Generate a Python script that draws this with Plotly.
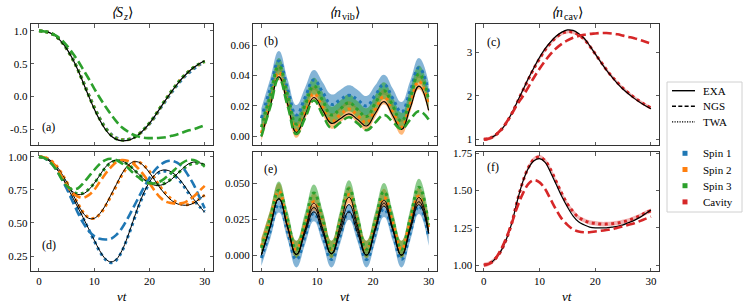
import plotly.graph_objects as go

# ---------------- data ----------------
T = list(range(31))
TQ = [0, 1.57, 3.14, 4.71, 6.28, 7.85, 9.42, 11.0, 12.57, 14.14, 15.71, 17.28,
      18.85, 20.42, 21.99, 23.56, 25.13, 26.7, 28.27, 30.0]

# (a) <S_z>, identical spins
A_EXA = [1.0, 0.99, 0.97, 0.92, 0.84, 0.73, 0.585, 0.41, 0.21, 0.005, -0.19, -0.36, -0.5, -0.6, -0.655,
         -0.675, -0.67, -0.64, -0.585, -0.505, -0.41, -0.295, -0.17, -0.045, 0.075, 0.185, 0.285, 0.37,
         0.44, 0.5, 0.545]
A_NGS = [1.0, 0.99, 0.97, 0.93, 0.87, 0.78, 0.67, 0.55, 0.41, 0.27, 0.12, -0.02, -0.15, -0.27, -0.38,
         -0.47, -0.53, -0.58, -0.61, -0.63, -0.635, -0.635, -0.63, -0.62, -0.6, -0.58, -0.55, -0.52,
         -0.5, -0.47, -0.44]
A_TWA1 = [1.0, 0.99, 0.97, 0.92, 0.84, 0.73, 0.59, 0.42, 0.23, 0.03, -0.16, -0.33, -0.47, -0.57, -0.63,
          -0.655, -0.655, -0.63, -0.58, -0.51, -0.42, -0.31, -0.18, -0.06, 0.06, 0.17, 0.27, 0.35, 0.42,
          0.48, 0.52]
A_TWA2 = [1.0, 0.99, 0.97, 0.92, 0.84, 0.73, 0.585, 0.415, 0.22, 0.02, -0.17, -0.34, -0.48, -0.58, -0.64,
          -0.66, -0.66, -0.635, -0.58, -0.505, -0.41, -0.295, -0.165, -0.04, 0.08, 0.19, 0.29, 0.37,
          0.44, 0.49, 0.53]
A_TWA3 = [1.0, 0.99, 0.97, 0.92, 0.84, 0.73, 0.585, 0.415, 0.215, 0.015, -0.175, -0.345, -0.485, -0.585,
          -0.645, -0.665, -0.66, -0.635, -0.58, -0.5, -0.405, -0.29, -0.16, -0.035, 0.085, 0.195, 0.295,
          0.375, 0.445, 0.495, 0.535]

# (d) <S_z>, different spins
D_EXA1 = [1.0, 0.99, 0.965, 0.92, 0.86, 0.78, 0.70, 0.62, 0.54, 0.455, 0.37, 0.29, 0.23, 0.205, 0.225,
          0.29, 0.39, 0.51, 0.63, 0.73, 0.81, 0.865, 0.895, 0.9, 0.885, 0.85, 0.8, 0.74, 0.68, 0.63, 0.58]
D_TWA1 = [1.0, 0.99, 0.965, 0.92, 0.855, 0.775, 0.695, 0.615, 0.535, 0.45, 0.365, 0.285, 0.225, 0.2,
          0.22, 0.285, 0.385, 0.5, 0.62, 0.72, 0.8, 0.855, 0.885, 0.89, 0.875, 0.84, 0.79, 0.73, 0.675,
          0.625, 0.585]
D_NGS1 = [1.0, 0.99, 0.96, 0.91, 0.84, 0.76, 0.67, 0.58, 0.5, 0.44, 0.4, 0.38, 0.375, 0.38, 0.41, 0.46,
          0.53, 0.61, 0.69, 0.77, 0.84, 0.9, 0.94, 0.965, 0.97, 0.955, 0.92, 0.86, 0.79, 0.7, 0.61]
D_EXA2 = [1.0, 0.995, 0.975, 0.94, 0.88, 0.81, 0.73, 0.645, 0.575, 0.535, 0.535, 0.57, 0.63, 0.71, 0.79,
          0.87, 0.93, 0.96, 0.96, 0.93, 0.88, 0.82, 0.76, 0.71, 0.67, 0.645, 0.635, 0.635, 0.65, 0.68, 0.71]
D_TWA2 = [1.0, 0.995, 0.975, 0.94, 0.88, 0.81, 0.73, 0.65, 0.58, 0.54, 0.535, 0.565, 0.625, 0.70, 0.78,
          0.86, 0.92, 0.955, 0.96, 0.935, 0.89, 0.83, 0.77, 0.72, 0.68, 0.655, 0.64, 0.64, 0.655, 0.68, 0.71]
D_NGS2 = [1.0, 0.995, 0.975, 0.93, 0.86, 0.79, 0.73, 0.70, 0.69, 0.71, 0.75, 0.81, 0.87, 0.92, 0.96,
          0.975, 0.97, 0.95, 0.91, 0.86, 0.8, 0.74, 0.69, 0.66, 0.65, 0.645, 0.65, 0.67, 0.7, 0.74, 0.78]
D_EXA3 = [1.0, 0.99, 0.965, 0.92, 0.86, 0.79, 0.74, 0.715, 0.72, 0.75, 0.80, 0.86, 0.92, 0.96, 0.975,
          0.97, 0.945, 0.91, 0.87, 0.83, 0.80, 0.785, 0.785, 0.80, 0.83, 0.87, 0.91, 0.945, 0.96, 0.955, 0.94]
D_TWA3 = [1.0, 0.99, 0.965, 0.92, 0.86, 0.795, 0.745, 0.72, 0.725, 0.755, 0.80, 0.86, 0.915, 0.955, 0.97,
          0.965, 0.945, 0.91, 0.87, 0.835, 0.805, 0.79, 0.79, 0.805, 0.835, 0.87, 0.905, 0.935, 0.95, 0.95,
          0.935]
D_NGS3 = [1.0, 0.99, 0.96, 0.91, 0.84, 0.78, 0.755, 0.76, 0.8, 0.85, 0.9, 0.945, 0.975, 0.985, 0.975,
          0.95, 0.92, 0.88, 0.845, 0.815, 0.80, 0.80, 0.815, 0.845, 0.88, 0.92, 0.955, 0.975, 0.975, 0.955,
          0.925]

# (b) <n_vib>, identical spins (sampled at TQ)
B_EXA = [0.0, 0.0195, 0.039, 0.021, 0.0025, 0.014, 0.0255, 0.017, 0.0085, 0.0115, 0.0148, 0.011, 0.0068,
         0.015, 0.0228, 0.0137, 0.0045, 0.0188, 0.033, 0.017]
B_NGS = [0.0, 0.019, 0.038, 0.020, 0.0015, 0.012, 0.0235, 0.014, 0.0055, 0.009, 0.0125, 0.0085, 0.004,
         0.009, 0.014, 0.0095, 0.005, 0.011, 0.0165, 0.011]
B_TWA1 = [0.012, 0.031, 0.0495, 0.031, 0.014, 0.0255, 0.037, 0.029, 0.021, 0.024, 0.027, 0.024, 0.020,
          0.027, 0.034, 0.025, 0.016, 0.030, 0.045, 0.029]
B_TWA2 = [0.002, 0.022, 0.042, 0.023, 0.004, 0.016, 0.028, 0.019, 0.010, 0.014, 0.018, 0.0135, 0.009,
          0.0175, 0.026, 0.016, 0.006, 0.021, 0.036, 0.020]
B_TWA3 = [0.006, 0.026, 0.046, 0.027, 0.008, 0.0205, 0.033, 0.0235, 0.014, 0.018, 0.022, 0.0175, 0.013,
          0.0215, 0.030, 0.020, 0.010, 0.0255, 0.041, 0.024]
B_ERR = [0.0065, 0.005, 0.0055]

# (e) <n_vib>, different spins (sampled at TQ)
E_EXA1 = [0.0, 0.0195, 0.039, 0.0195, 0.0005, 0.0155, 0.030, 0.0155, 0.001, 0.0155, 0.030, 0.015, 0.0,
          0.017, 0.034, 0.0175, 0.0, 0.0175, 0.035, 0.015]
E_EXA2 = [0.0, 0.0195, 0.039, 0.0195, 0.0005, 0.017, 0.033, 0.0175, 0.001, 0.018, 0.035, 0.0175, 0.0,
          0.018, 0.036, 0.018, 0.0, 0.0185, 0.037, 0.0155]
E_EXA3 = [0.0, 0.0195, 0.039, 0.019, 0.0005, 0.018, 0.036, 0.0185, 0.001, 0.0205, 0.040, 0.020, 0.0,
          0.019, 0.038, 0.019, 0.0, 0.020, 0.040, 0.017]
E_TWA1 = [-0.002, 0.0165, 0.035, 0.016, -0.003, 0.013, 0.029, 0.0135, -0.003, 0.0135, 0.030, 0.0145,
          -0.003, 0.0145, 0.032, 0.0155, -0.003, 0.0155, 0.034, 0.012]
E_TWA2 = [0.006, 0.025, 0.044, 0.021, 0.004, 0.0205, 0.037, 0.023, 0.004, 0.023, 0.042, 0.022, 0.004,
          0.022, 0.040, 0.022, 0.004, 0.023, 0.041, 0.019]
E_TWA3 = [0.005, 0.025, 0.045, 0.0245, 0.004, 0.0235, 0.043, 0.025, 0.004, 0.025, 0.046, 0.025, 0.004,
          0.024, 0.044, 0.0245, 0.004, 0.0255, 0.047, 0.021]
E_ERR = [0.0055, 0.006, 0.006]

# (c) <n_cav>, identical spins
C_EXA = [1.0, 1.02, 1.09, 1.2, 1.37, 1.6, 1.86, 2.13, 2.4, 2.65, 2.88, 3.08, 3.24, 3.37, 3.46, 3.51, 3.5,
         3.43, 3.32, 3.15, 2.96, 2.77, 2.59, 2.43, 2.28, 2.15, 2.04, 1.94, 1.85, 1.77, 1.7]
C_TWA = [1.0, 1.02, 1.09, 1.2, 1.37, 1.59, 1.85, 2.12, 2.38, 2.63, 2.85, 3.05, 3.21, 3.34, 3.43, 3.47,
         3.46, 3.4, 3.3, 3.14, 2.96, 2.78, 2.6, 2.44, 2.3, 2.17, 2.06, 1.96, 1.87, 1.79, 1.72]
C_NGS = [1.0, 1.02, 1.09, 1.21, 1.38, 1.58, 1.8, 1.99, 2.2, 2.42, 2.62, 2.8, 2.96, 3.09, 3.19, 3.27, 3.33,
         3.37, 3.4, 3.42, 3.43, 3.44, 3.44, 3.43, 3.41, 3.38, 3.35, 3.32, 3.28, 3.24, 3.2]
C_ERR = 0.04

# (f) <n_cav>, different spins
F_EXA = [1.0, 1.01, 1.04, 1.09, 1.17, 1.28, 1.43, 1.56, 1.65, 1.7, 1.715, 1.69, 1.62, 1.54, 1.46, 1.39,
         1.33, 1.29, 1.27, 1.255, 1.25, 1.25, 1.25, 1.255, 1.26, 1.27, 1.285, 1.3, 1.32, 1.345, 1.37]
F_TWA = [1.0, 1.01, 1.04, 1.09, 1.17, 1.28, 1.43, 1.56, 1.655, 1.71, 1.725, 1.7, 1.64, 1.56, 1.48, 1.41,
         1.36, 1.32, 1.3, 1.285, 1.28, 1.275, 1.275, 1.278, 1.282, 1.29, 1.3, 1.315, 1.33, 1.35, 1.365]
F_NGS = [1.0, 1.01, 1.04, 1.1, 1.18, 1.28, 1.39, 1.48, 1.545, 1.57, 1.555, 1.51, 1.44, 1.37, 1.31, 1.27,
         1.24, 1.225, 1.22, 1.22, 1.225, 1.23, 1.235, 1.24, 1.25, 1.26, 1.27, 1.28, 1.295, 1.31, 1.325]
F_ERR = 0.015

X_TICKS = [0, 10, 20, 30]
LEGEND_LINES = ["EXA", "NGS", "TWA"]
LEGEND_COLORS = ["Spin 1", "Spin 2", "Spin 3", "Cavity"]
# column titles: (symbol, subscript, subscript italic?)
TITLES = [("S", "z", True), ("n", "vib", False), ("n", "cav", False)]

# ---------------- style ----------------
BLUE, ORANGE, GREEN, RED = "#1f77b4", "#ff7f0e", "#2ca02c", "#d62728"
BAND = {BLUE: "rgba(31,119,180,0.55)", ORANGE: "rgba(255,127,14,0.55)",
        GREEN: "rgba(44,160,44,0.55)", RED: "rgba(214,39,40,0.35)"}
FONT = "Liberation Serif"
W, H = 747, 307
DOT = "3px,3.5px"
DASH = "9px,4px"

fig = go.Figure()


def ax(i):
    return ("x" if i == 1 else f"x{i}"), ("y" if i == 1 else f"y{i}")


def line(i, x, y, color, width, dash="solid", smooth=1.0):
    xa, ya = ax(i)
    fig.add_trace(go.Scatter(x=x, y=y, xaxis=xa, yaxis=ya, mode="lines",
                             line=dict(color=color, width=width, dash=dash, shape="spline", smoothing=smooth),
                             hoverinfo="skip", showlegend=False))


def band(i, x, y, err, color, smooth=1.0):
    xa, ya = ax(i)
    lo = [v - err for v in y]
    hi = [v + err for v in y]
    fig.add_trace(go.Scatter(x=x, y=lo, xaxis=xa, yaxis=ya, mode="lines",
                             line=dict(width=0, shape="spline", smoothing=smooth),
                             hoverinfo="skip", showlegend=False))
    fig.add_trace(go.Scatter(x=x, y=hi, xaxis=xa, yaxis=ya, mode="lines", fill="tonexty",
                             fillcolor=BAND[color], line=dict(width=0, shape="spline", smoothing=smooth),
                             hoverinfo="skip", showlegend=False))


SQ = 1.3  # smoothing for the quarter-period sampled oscillations

# (a)
for y, c in [(A_TWA1, BLUE), (A_TWA2, ORANGE), (A_TWA3, GREEN)]:
    line(1, T, y, c, 3, DOT)
line(1, T, A_EXA, "black", 1.2)
line(1, T, A_NGS, GREEN, 2.6, DASH)

# (b)
for y, c, e in [(B_TWA1, BLUE, B_ERR[0]), (B_TWA2, ORANGE, B_ERR[1]), (B_TWA3, GREEN, B_ERR[2])]:
    band(2, TQ, y, e, c, SQ)
for y, c in [(B_TWA1, BLUE), (B_TWA2, ORANGE), (B_TWA3, GREEN)]:
    line(2, TQ, y, c, 3, DOT, SQ)
line(2, TQ, B_EXA, "black", 1.2, smooth=SQ)
line(2, TQ, B_NGS, GREEN, 2.6, DASH, SQ)

# (c)
band(3, T, C_TWA, C_ERR, RED)
line(3, T, C_TWA, RED, 3, DOT)
line(3, T, C_EXA, "black", 1.2)
line(3, T, C_NGS, RED, 2.6, DASH)

# (d)
for tw, c in [(D_TWA1, BLUE), (D_TWA2, ORANGE), (D_TWA3, GREEN)]:
    line(4, T, tw, c, 3, DOT)
for ex in [D_EXA1, D_EXA2, D_EXA3]:
    line(4, T, ex, "black", 1.0)
for ng, c in [(D_NGS1, BLUE), (D_NGS2, ORANGE), (D_NGS3, GREEN)]:
    line(4, T, ng, c, 2.6, DASH)

# (e)
for y, c, e in [(E_TWA1, BLUE, E_ERR[0]), (E_TWA2, ORANGE, E_ERR[1]), (E_TWA3, GREEN, E_ERR[2])]:
    band(5, TQ, y, e, c, SQ)
for y, c in [(E_TWA1, BLUE), (E_TWA2, ORANGE), (E_TWA3, GREEN)]:
    line(5, TQ, y, c, 3, DOT, SQ)
for ex in [E_EXA1, E_EXA2, E_EXA3]:
    line(5, TQ, ex, "black", 1.0, smooth=SQ)

# (f)
band(6, T, F_TWA, F_ERR, RED)
line(6, T, F_TWA, RED, 3, DOT)
line(6, T, F_EXA, "black", 1.2)
line(6, T, F_NGS, RED, 2.6, DASH)

# ---------------- axes ----------------
XD = [[30.7 / W, 213.0 / W], [253.0 / W, 437.0 / W], [475.5 / W, 659.3 / W]]
YD = [[1 - 145.0 / H, 1 - 24.3 / H], [1 - 271.0 / H, 1 - 152.0 / H]]

YCFG = {
    1: ([-0.74, 1.10], [-0.5, 0.0, 0.5, 1.0], ["-0.5", "0.0", "0.5", "1.0"]),
    2: ([-0.0057, 0.0736], [0.0, 0.02, 0.04, 0.06], ["0.00", "0.02", "0.04", "0.06"]),
    3: ([0.87, 3.64], [1, 2, 3], ["1", "2", "3"]),
    4: ([0.137, 1.036], [0.25, 0.5, 0.75, 1.0], ["0.25", "0.50", "0.75", "1.00"]),
    5: ([-0.011, 0.0715], [0.0, 0.025, 0.05], ["0.000", "0.025", "0.050"]),
    6: ([0.96, 1.759], [1.0, 1.25, 1.5, 1.75], ["1.00", "1.25", "1.50", "1.75"]),
}

common = dict(showline=True, linecolor="#333333", linewidth=1, mirror="ticks", ticks="inside",
              ticklen=3.5, tickwidth=0.8, tickcolor="#333333", showgrid=False, zeroline=False,
              automargin=False, tickfont=dict(family=FONT, size=11, color="black"))

layout_axes = {}
for i in range(1, 7):
    row = 0 if i <= 3 else 1
    col = (i - 1) % 3
    xa, ya = ax(i)
    xkey = "xaxis" if i == 1 else f"xaxis{i}"
    ykey = "yaxis" if i == 1 else f"yaxis{i}"
    layout_axes[xkey] = dict(domain=XD[col], range=[-1.5, 31.5], anchor=ya, tickvals=X_TICKS,
                             ticktext=[str(v) for v in X_TICKS], showticklabels=(row == 1), **common)
    rng, tv, tt = YCFG[i]
    layout_axes[ykey] = dict(domain=YD[row], range=rng, anchor=xa, tickvals=tv, ticktext=tt, **common)

fig.update_layout(**layout_axes)

# ---------------- annotations ----------------
ann = []
px = lambda v: v / W
py = lambda v: 1 - v / H


def txt(text, x, y, size, xanchor="center", style="normal", pad=1):
    ann.append(dict(text=text, x=px(x), y=py(y), xref="paper", yref="paper", xanchor=xanchor,
                    yanchor="middle", showarrow=False, borderpad=pad, borderwidth=0 if pad == 0 else 1,
                    font=dict(family=FONT, size=size, color="black", style=style)))


# column titles built from plain text pieces (no markup): "<" sym, subscript, ">"
SUB_W = {"z": 4.2, "vib": 13.0, "cav": 14.0}
for col, (sym, sub, sub_it) in enumerate(TITLES):
    cx = (XD[col][0] + XD[col][1]) / 2 * W
    total = 11.5 + 0.5 + SUB_W[sub] + 0.5 + 5.0
    p = cx - total / 2 + 11.5
    txt("⟨" + sym, p, 12.5, 14, xanchor="right", style="italic", pad=0)
    txt(sub, p + 0.5, 16.5, 10, xanchor="left", style="italic" if sub_it else "normal", pad=0)
    txt("⟩", p + 1.0 + SUB_W[sub], 12.5, 14, xanchor="left", pad=0)
    txt("νt", cx, 296, 13, style="italic")

labels = {1: ("(a)", 0.05, 0.15), 2: ("(b)", 0.05, 0.865), 3: ("(c)", 0.05, 0.85),
          4: ("(d)", 0.05, 0.22), 5: ("(e)", 0.05, 0.855), 6: ("(f)", 0.05, 0.87)}
for i, (lab, fx, fy) in labels.items():
    xa, ya = ax(i)
    ann.append(dict(text=lab, x=fx, y=fy, xref=f"{xa} domain", yref=f"{ya} domain", xanchor="left",
                    yanchor="middle", showarrow=False, font=dict(family=FONT, size=12, color="black")))

# legend (drawn manually)
shapes = []
shapes.append(dict(type="rect", xref="paper", yref="paper", x0=px(667), x1=px(742), y0=py(212), y1=py(82),
                   line=dict(color="#d0d0d0", width=1), fillcolor="white", layer="below"))
for k, (name, dash) in enumerate(zip(LEGEND_LINES, ["solid", "4px,2.3px", "1.2px,1.3px"])):
    yy = 90.7 + k * 15.6
    shapes.append(dict(type="line", xref="paper", yref="paper", x0=px(672), x1=px(695), y0=py(yy), y1=py(yy),
                       line=dict(color="black", width=1.4, dash=dash)))
    txt(name, 701, yy, 11, xanchor="left")
for k, (name, c) in enumerate(zip(LEGEND_COLORS, [BLUE, ORANGE, GREEN, RED])):
    yy = 153.3 + k * 16.2
    shapes.append(dict(type="rect", xref="paper", yref="paper", x0=px(682.5), x1=px(687.5),
                       y0=py(yy + 2.5), y1=py(yy - 2.5), line=dict(width=0), fillcolor=c))
    txt(name, 701, yy, 11, xanchor="left")

fig.update_layout(width=W, height=H, margin=dict(l=0, r=0, t=0, b=0, autoexpand=False),
                  plot_bgcolor="white", paper_bgcolor="white", showlegend=False,
                  annotations=ann, shapes=shapes)

fig.write_html("out.html", config={"displayModeBar": False, "staticPlot": True},
               post_script="document.body.style.margin='0px';document.body.style.overflow='hidden';")
